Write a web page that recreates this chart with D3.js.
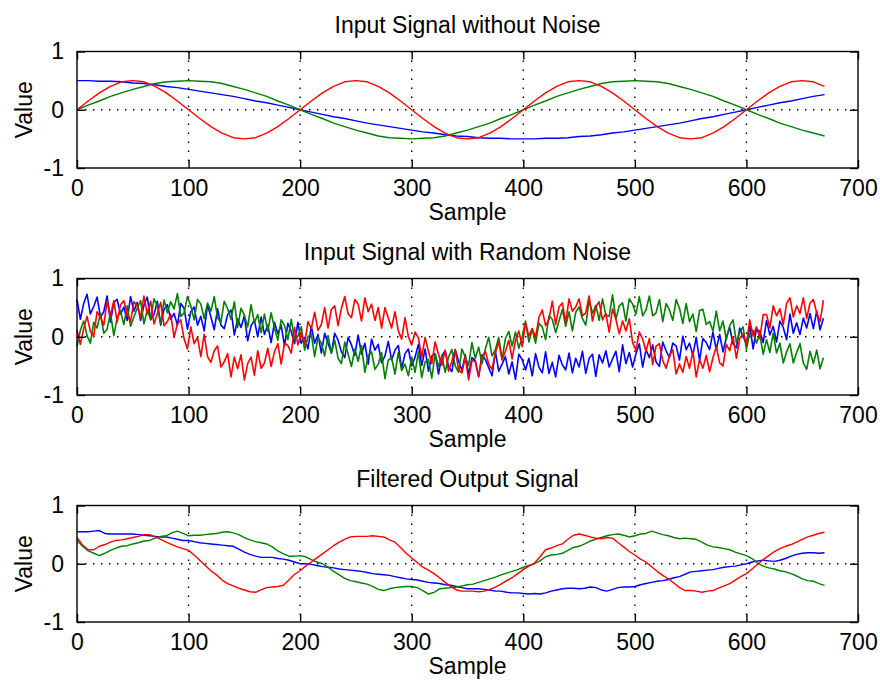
<!DOCTYPE html>
<html>
<head>
<meta charset="utf-8">
<script src="https://cdn.jsdelivr.net/npm/d3@7"></script>
<style>
  body { margin: 0; background: #fff; }
  svg text { font-family: "Liberation Sans", Arial, sans-serif; font-size: 23px; fill: #000; }
</style>
</head>
<body>
<svg id="chart"></svg>
<script>
const width = 880;
const height = 681;

// sample spacing of each data array (samples between stored points)
const cleanStep = 10;
const noisyStep = 3;
const filteredStep = 5;

const xTicks = [0, 100, 200, 300, 400, 500, 600, 700];
const yTicks = [-1, 0, 1];
const titles = ["Input Signal without Noise", "Input Signal with Random Noise", "Filtered Output Signal"];

// panel 1: input without noise (every 10 samples)
const cleanRed = [0,.15,.29,.40,.48,.5,.48,.40,.29,.15,0,-.15,-.29,-.40,-.48,-.5,-.48,-.40,-.29,-.15,
  0,.15,.29,.40,.48,.5,.48,.40,.29,.15,0,-.15,-.29,-.40,-.48,-.5,-.48,-.40,-.29,-.15,
  0,.15,.29,.40,.48,.5,.48,.40,.29,.15,0,-.15,-.29,-.40,-.48,-.5,-.48,-.40,-.29,-.15,
  0,.15,.29,.40,.48,.5,.48,.40];
const cleanGreen = [0,.08,.15,.23,.29,.35,.40,.45,.48,.49,.5,.49,.48,.45,.40,.35,.29,.23,.15,.08,0,
  -.08,-.15,-.23,-.29,-.35,-.40,-.45,-.48,-.49,-.5,-.49,-.48,-.45,-.40,-.35,-.29,-.23,-.15,-.08,0,
  .08,.15,.23,.29,.35,.40,.45,.48,.49,.5,.49,.48,.45,.40,.35,.29,.23,.15,.08,0,
  -.08,-.15,-.23,-.29,-.35,-.40,-.45];
const cleanBlue = [.5,.50,.49,.49,.48,.46,.45,.43,.40,.38,.35,.32,.29,.26,.23,.19,.15,.12,.08,.04,0,
  -.04,-.08,-.12,-.15,-.19,-.23,-.26,-.29,-.32,-.35,-.38,-.40,-.43,-.45,-.46,-.48,-.49,-.49,-.50,-.5,
  -.50,-.49,-.49,-.48,-.46,-.45,-.43,-.40,-.38,-.35,-.32,-.29,-.26,-.23,-.19,-.15,-.12,-.08,-.04,0,
  .04,.08,.12,.15,.19,.23,.26];

// panel 2: input with random noise (every 3 samples)
const noisyRed = [.12,-.13,.14,.35,.09,.01,.43,.33,.20,.61,
  .36,.62,.25,.55,.62,.38,.26,.60,.53,.33,
  .70,.39,.61,.22,.40,.59,.19,.26,.39,-.01,
  .22,.29,-.04,-.21,.17,-.12,-.01,-.34,.04,-.34,
  -.44,-.24,-.16,-.52,-.43,-.29,-.69,-.35,-.55,-.31,
  -.74,-.46,-.35,-.66,-.24,-.54,-.45,-.20,-.51,-.26,
  -.12,-.47,-.11,-.15,-.28,.16,-.14,.07,-.13,.26,
  .14,.42,.11,.21,.50,.15,.47,.53,.19,.49,
  .69,.39,.33,.64,.56,.27,.67,.43,.56,.28,
  .50,.15,.50,.32,.15,.43,.10,-.04,.33,.00,
  -.14,.08,-.02,-.35,-.01,-.25,-.46,-.09,-.30,-.49,
  -.23,-.59,-.42,-.22,-.57,-.62,-.35,-.74,-.40,-.43,
  -.68,-.35,-.25,-.47,-.56,-.27,-.09,-.40,-.25,-.06,
  -.38,-.06,.10,-.17,.24,.01,.14,-.01,.33,.46,
  .19,.30,.61,.21,.51,.58,.24,.65,.44,.51,
  .65,.36,.41,.70,.27,.51,.60,.29,.40,.08,
  .48,.30,.05,.27,.10,.31,-.10,-.23,.08,-.04,
  -.25,-.03,-.48,-.16,-.12,-.41,-.54,-.33,-.22,-.64,
  -.47,-.61,-.34,-.54,-.25,-.69,-.39,-.54,-.32,-.60,
  -.36,-.17,-.45,-.50,-.13,-.24,.00,-.37,-.03,.05,
  -.13,.29,.01,.17,-.03,.38,.38,.15,.53,.36,
  .48,.21,.57,.67,.34,.53,.40,.67,.31,.58,
  .64,.41,.26,.63];
const noisyGreen = [-.17,.11,.27,.02,-.11,.25,.15,.40,.06,.13,
  .41,.02,.33,.44,.21,.53,.18,.34,.49,.62,
  .22,.46,.30,.65,.53,.22,.63,.41,.60,.48,
  .74,.35,.41,.69,.53,.29,.64,.56,.31,.58,
  .44,.69,.32,.25,.61,.48,.30,.60,.16,.49,
  .37,.17,.55,.24,.38,.07,.39,.10,.41,.15,
  -.06,.29,.19,-.05,.30,-.05,.01,.17,-.23,.00,
  .05,-.34,-.01,-.11,-.33,.02,-.28,-.06,-.37,-.46,
  -.09,-.30,-.51,-.21,-.42,-.15,-.61,-.32,-.26,-.56,
  -.47,-.27,-.72,-.40,-.36,-.64,-.27,-.58,-.47,-.67,
  -.35,-.61,-.26,-.70,-.43,-.39,-.71,-.29,-.51,-.33,
  -.61,-.35,-.22,-.50,-.61,-.21,-.35,-.49,-.10,-.37,
  -.18,-.46,-.21,-.01,-.33,-.22,-.01,-.39,-.03,.09,
  -.16,.08,-.20,.00,.27,-.09,.13,-.11,.23,.17,
  -.05,.36,.30,.07,.27,.47,.18,.43,.10,.42,
  .51,.31,.20,.63,.40,.54,.28,.65,.37,.35,
  .72,.30,.53,.58,.27,.65,.56,.39,.69,.36,
  .46,.70,.36,.41,.64,.26,.57,.46,.28,.64,
  .49,.23,.57,.26,.39,.09,.45,.47,.21,.26,
  .10,.44,.10,.27,-.05,.19,.29,-.10,.08,.17,
  -.22,.08,.11,-.11,.04,-.30,-.05,-.27,.06,-.28,
  -.11,-.45,-.26,-.12,-.45,-.27,-.12,-.45,-.56,-.25,
  -.46,-.23,-.55,-.36];
const noisyBlue = [.64,.30,.57,.73,.39,.52,.68,.34,.43,.70,
  .25,.59,.64,.39,.51,.28,.69,.44,.59,.28,
  .54,.68,.29,.38,.61,.20,.47,.55,.30,.40,
  .20,.57,.49,.13,.43,.51,.20,.35,.10,.55,
  .34,.12,.48,.20,.14,.38,.46,.03,.31,.16,
  .36,-.07,.19,.28,.00,.34,.04,.20,-.10,.25,
  .05,.20,-.16,.23,.09,-.12,.25,-.11,-.01,-.21,
  .18,-.11,.04,-.28,.06,-.11,-.28,.06,-.06,-.26,
  -.36,-.01,-.14,-.32,.03,-.30,-.11,-.47,-.04,-.23,
  -.13,-.45,-.33,-.08,-.40,-.23,-.15,-.55,-.29,-.21,
  -.50,-.35,-.13,-.49,-.21,-.59,-.33,-.29,-.64,-.33,
  -.24,-.51,-.60,-.22,-.42,-.58,-.31,-.65,-.36,-.41,
  -.69,-.31,-.39,-.53,-.67,-.25,-.59,-.47,-.34,-.64,
  -.43,-.73,-.30,-.39,-.57,-.37,-.67,-.29,-.52,-.62,
  -.26,-.63,-.44,-.69,-.32,-.48,-.57,-.28,-.62,-.37,
  -.52,-.25,-.63,-.37,-.30,-.68,-.31,-.45,-.24,-.52,
  -.38,-.25,-.60,-.14,-.46,-.27,-.52,-.29,-.12,-.52,
  -.22,-.36,-.14,-.43,-.51,-.09,-.24,-.36,-.11,-.16,
  -.40,.01,-.22,-.11,-.32,-.01,-.41,-.03,-.10,-.22,
  .08,-.22,.04,-.26,-.01,.16,-.12,-.19,.15,.00,
  -.12,.19,-.21,.14,.09,-.10,.28,.03,.18,-.09,
  .27,.16,-.05,.39,.06,.24,.04,.32,.15,.40,
  .14,.44,.12,.32];

// panel 3: filtered output (every 5 samples)
const filteredRed = [.45,.32,.24,.24,.30,.33,.37,.40,.41,.43,.45,.47,.50,.50,.46,.42,.37,.33,.29,.26,
  .23,.15,.06,-.03,-.12,-.19,-.28,-.34,-.38,-.42,-.45,-.48,-.49,-.45,-.41,-.40,-.39,-.37,-.28,-.18,
  -.12,-.04,.03,.10,.17,.24,.31,.37,.42,.46,.47,.47,.47,.48,.47,.46,.41,.37,.28,.18,
  .10,.02,-.06,-.11,-.17,-.24,-.32,-.39,-.45,-.47,-.47,-.47,-.48,-.47,-.44,-.40,-.35,-.29,-.24,-.17,
  -.10,-.04,.01,.12,.24,.27,.31,.34,.42,.49,.51,.49,.46,.44,.43,.45,.44,.36,.29,.21,
  .15,.08,.03,-.05,-.13,-.20,-.26,-.33,-.41,-.46,-.46,-.47,-.49,-.47,-.46,-.42,-.38,-.34,-.28,-.22,
  -.17,-.09,-.01,.07,.14,.21,.26,.30,.33,.37,.42,.46,.49,.52,.54];
const filteredGreen = [.40,.30,.22,.18,.14,.18,.23,.27,.30,.31,.34,.36,.39,.40,.44,.47,.48,.53,.56,.52,
  .48,.49,.49,.50,.51,.52,.54,.55,.53,.50,.45,.41,.38,.36,.34,.29,.22,.17,.13,.13,
  .14,.12,.07,.03,.00,-.06,-.13,-.19,-.25,-.29,-.31,-.33,-.35,-.39,-.44,-.46,-.43,-.41,-.40,-.39,
  -.39,-.41,-.46,-.52,-.49,-.43,-.42,-.41,-.40,-.38,-.36,-.35,-.32,-.29,-.26,-.23,-.19,-.16,-.13,-.10,
  -.06,-.03,.00,.05,.12,.15,.16,.18,.23,.28,.30,.34,.39,.42,.45,.48,.50,.51,.49,.46,
  .48,.51,.52,.56,.53,.50,.48,.45,.43,.44,.43,.42,.37,.32,.29,.28,.26,.24,.20,.17,
  .14,.09,.01,-.04,-.07,-.09,-.12,-.14,-.17,-.21,-.26,-.29,-.30,-.34,-.37];
const filteredBlue = [.55,.55,.55,.56,.57,.52,.51,.51,.51,.51,.51,.50,.49,.48,.47,.46,.46,.44,.42,.40,
  .40,.38,.36,.35,.34,.33,.32,.31,.30,.25,.20,.16,.13,.11,.11,.11,.09,.08,.06,.03,
  .00,.00,-.01,-.03,-.05,-.06,-.07,-.09,-.10,-.11,-.12,-.13,-.15,-.17,-.18,-.19,-.20,-.22,-.24,-.26,
  -.27,-.28,-.30,-.32,-.33,-.34,-.36,-.37,-.39,-.41,-.43,-.43,-.43,-.44,-.45,-.47,-.47,-.49,-.50,-.50,
  -.51,-.52,-.51,-.52,-.50,-.47,-.45,-.43,-.42,-.42,-.43,-.42,-.40,-.41,-.45,-.47,-.44,-.41,-.40,-.40,
  -.39,-.36,-.34,-.32,-.30,-.29,-.27,-.24,-.22,-.18,-.14,-.13,-.12,-.11,-.10,-.08,-.06,-.05,-.04,-.02,
  .00,.03,.05,.06,.05,.04,.06,.09,.13,.16,.18,.19,.19,.18,.19];

// drawing order as in the original: blue, green, red on top
const colors = ["#0000ff", "#008000", "#ff0000"];
const panels = [
  { title: titles[0], step: cleanStep, width: 1.4, series: [cleanBlue, cleanGreen, cleanRed] },
  { title: titles[1], step: noisyStep, width: 1.6, series: [noisyBlue, noisyGreen, noisyRed] },
  { title: titles[2], step: filteredStep, width: 1.4, series: [filteredBlue, filteredGreen, filteredRed] },
];

const svg = d3.select("#chart").attr("width", width).attr("height", height);

const left = 77, right = 858;
const panelTop = 51.5, panelGap = 227, panelHeight = 116.5;

const x = d3.scaleLinear().domain([0, 700]).range([left, right]);

panels.forEach((p, k) => {
  const top = panelTop + panelGap * k;
  const bottom = top + panelHeight;
  const y = d3.scaleLinear().domain([-1, 1]).range([bottom, top]);
  const g = svg.append("g");

  // dotted grid
  g.selectAll(".vgrid")
    .data(xTicks.slice(1, -1))
    .join("line")
    .attr("x1", (d) => x(d)).attr("x2", (d) => x(d))
    .attr("y1", top).attr("y2", bottom)
    .attr("stroke", "#000").attr("stroke-width", 1.4)
    .attr("stroke-dasharray", "1.5,7.5");
  g.selectAll(".hgrid")
    .data(yTicks.slice(1, -1))
    .join("line")
    .attr("x1", left).attr("x2", right)
    .attr("y1", (d) => y(d)).attr("y2", (d) => y(d))
    .attr("stroke", "#000").attr("stroke-width", 1.4)
    .attr("stroke-dasharray", "1.5,6.5");

  // signals
  p.series.forEach((s, j) => {
    g.append("path")
      .datum(s)
      .attr("fill", "none")
      .attr("stroke", colors[j])
      .attr("stroke-width", p.width)
      .attr("stroke-linejoin", "round")
      .attr(
        "d",
        d3.line()
          .x((d, i) => x(i * p.step))
          .y((d) => y(d))
      );
  });

  // axes with inward ticks, MATLAB style
  const bottomAxis = g.append("g")
    .attr("transform", `translate(0,${bottom})`)
    .call(d3.axisBottom(x).tickValues(xTicks).tickSizeInner(-8).tickSizeOuter(0).tickPadding(12));
  const topAxis = g.append("g")
    .attr("transform", `translate(0,${top})`)
    .call(d3.axisTop(x).tickValues(xTicks).tickSizeInner(-8).tickSizeOuter(0).tickFormat(""));
  const leftAxis = g.append("g")
    .attr("transform", `translate(${left},0)`)
    .call(d3.axisLeft(y).tickValues(yTicks).tickSizeInner(-8).tickSizeOuter(0).tickPadding(13).tickFormat(d3.format("d")));
  const rightAxis = g.append("g")
    .attr("transform", `translate(${right},0)`)
    .call(d3.axisRight(y).tickValues(yTicks).tickSizeInner(-8).tickSizeOuter(0).tickFormat(""));

  [bottomAxis, topAxis, leftAxis, rightAxis].forEach((a) => {
    a.select(".domain").remove();
    a.selectAll(".tick line").attr("stroke", "#000").attr("stroke-width", 1.4);
    a.selectAll("text").attr("font-size", null).attr("font-family", null).attr("fill", "#000");
  });
  leftAxis.selectAll("text").text((d) => (d < 0 ? "-" + Math.abs(d) : d));

  g.append("rect")
    .attr("x", left).attr("y", top)
    .attr("width", right - left).attr("height", bottom - top)
    .attr("fill", "none").attr("stroke", "#000").attr("stroke-width", 1.4);

  // labels
  g.append("text")
    .attr("x", (left + right) / 2).attr("y", top - 19)
    .attr("text-anchor", "middle")
    .text(p.title);
  g.append("text")
    .attr("x", (left + right) / 2).attr("y", bottom + 52)
    .attr("text-anchor", "middle")
    .text("Sample");
  g.append("text")
    .attr("transform", `translate(31.5,${(top + bottom) / 2}) rotate(-90)`)
    .attr("text-anchor", "middle")
    .text("Value");
});
</script>
</body>
</html>
